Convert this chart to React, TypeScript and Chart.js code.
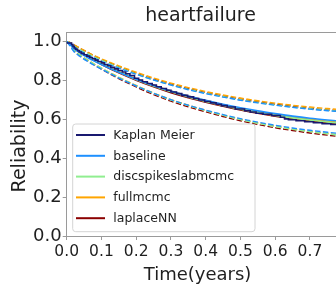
import React, { useEffect, useRef } from "react";
import { Chart, registerables } from "chart.js";

Chart.register(...registerables);

// ---------- data ----------
const TITLE = "heartfailure";
const X_LABEL = "Time(years)";
const Y_LABEL = "Reliability";

const TIMES = [0, 0.01, 0.02, 0.04, 0.06, 0.08, 0.1, 0.15, 0.2, 0.25, 0.3, 0.35, 0.4, 0.45, 0.5, 0.55, 0.6, 0.65, 0.7, 0.75, 0.8];

const KM_TIMES = [0, 0.014, 0.018, 0.022, 0.026, 0.031, 0.036, 0.042, 0.05, 0.058, 0.066, 0.074, 0.082, 0.09, 0.1, 0.108, 0.118, 0.127, 0.138, 0.148, 0.16, 0.17, 0.182, 0.195, 0.207, 0.218, 0.232, 0.246, 0.258, 0.272, 0.287, 0.3, 0.316, 0.331, 0.348, 0.365, 0.38, 0.397, 0.414, 0.43, 0.445, 0.462, 0.485, 0.512, 0.528, 0.545, 0.565, 0.59, 0.615, 0.627, 0.638, 0.66, 0.685, 0.71, 0.735, 0.76, 0.78];
const KM_SURV = [1.0, 0.993, 0.985, 0.976, 0.968, 0.961, 0.954, 0.947, 0.94, 0.933, 0.926, 0.919, 0.912, 0.905, 0.898, 0.891, 0.883, 0.876, 0.868, 0.86, 0.852, 0.844, 0.835, 0.826, 0.812, 0.803, 0.794, 0.785, 0.777, 0.768, 0.759, 0.75, 0.741, 0.733, 0.724, 0.716, 0.708, 0.7, 0.692, 0.685, 0.678, 0.671, 0.664, 0.654, 0.645, 0.638, 0.632, 0.627, 0.62, 0.611, 0.603, 0.598, 0.593, 0.588, 0.583, 0.578, 0.574];

const BASELINE_MEAN = [1.0, 0.985, 0.965, 0.94, 0.919, 0.9, 0.883, 0.843, 0.807, 0.775, 0.746, 0.72, 0.698, 0.678, 0.66, 0.644, 0.63, 0.617, 0.606, 0.597, 0.589];
const BASELINE_UPPER = [1.0, 0.99, 0.973, 0.951, 0.932, 0.915, 0.899, 0.864, 0.832, 0.803, 0.777, 0.753, 0.733, 0.715, 0.699, 0.685, 0.673, 0.662, 0.653, 0.645, 0.639];
const BASELINE_LOWER = [1.0, 0.977, 0.951, 0.922, 0.899, 0.878, 0.859, 0.813, 0.772, 0.735, 0.702, 0.673, 0.648, 0.625, 0.604, 0.586, 0.57, 0.556, 0.544, 0.534, 0.525];

const DISC_MEAN = [1.0, 0.99, 0.972, 0.946, 0.924, 0.904, 0.886, 0.844, 0.806, 0.772, 0.742, 0.716, 0.693, 0.672, 0.653, 0.636, 0.621, 0.608, 0.597, 0.587, 0.578];
const DISC_UPPER = [1.0, 0.993, 0.979, 0.958, 0.939, 0.921, 0.905, 0.868, 0.834, 0.804, 0.778, 0.755, 0.735, 0.717, 0.701, 0.687, 0.675, 0.664, 0.655, 0.647, 0.64];
const DISC_LOWER = [1.0, 0.984, 0.96, 0.93, 0.906, 0.884, 0.864, 0.816, 0.773, 0.734, 0.7, 0.671, 0.645, 0.621, 0.599, 0.58, 0.563, 0.549, 0.537, 0.526, 0.516];

const FULL_MEAN = [1.0, 0.99, 0.973, 0.948, 0.926, 0.906, 0.888, 0.847, 0.81, 0.776, 0.746, 0.72, 0.697, 0.676, 0.657, 0.64, 0.625, 0.612, 0.601, 0.591, 0.582];
const FULL_UPPER = [1.0, 0.995, 0.985, 0.965, 0.946, 0.928, 0.912, 0.876, 0.843, 0.813, 0.787, 0.764, 0.744, 0.726, 0.71, 0.696, 0.684, 0.673, 0.664, 0.656, 0.649];
const FULL_LOWER = [1.0, 0.982, 0.959, 0.93, 0.906, 0.884, 0.864, 0.817, 0.775, 0.736, 0.702, 0.673, 0.647, 0.623, 0.601, 0.582, 0.565, 0.551, 0.539, 0.528, 0.518];

const LAPLACE_MEAN = [1.0, 0.99, 0.97, 0.945, 0.923, 0.902, 0.883, 0.84, 0.802, 0.768, 0.738, 0.712, 0.689, 0.668, 0.649, 0.632, 0.617, 0.604, 0.592, 0.582, 0.573];
const LAPLACE_UPPER = [1.0, 0.995, 0.984, 0.964, 0.945, 0.926, 0.909, 0.871, 0.837, 0.807, 0.781, 0.758, 0.738, 0.72, 0.704, 0.69, 0.678, 0.667, 0.657, 0.649, 0.642];
const LAPLACE_LOWER = [1.0, 0.982, 0.956, 0.927, 0.903, 0.88, 0.859, 0.81, 0.767, 0.728, 0.694, 0.665, 0.639, 0.615, 0.593, 0.574, 0.557, 0.543, 0.53, 0.519, 0.509];

const SERIES_NAMES = ["Kaplan Meier", "baseline", "discspikeslabmcmc", "fullmcmc", "laplaceNN"];
const SERIES_COLORS = ["#191970", "#1e90ff", "#90ee90", "#ffa500", "#8b0000"];

const X_MIN = 0;
const X_MAX = 0.775;
const X_STEP = 0.1;
const Y_MIN = 0;
const Y_MAX = 1.05;
const Y_STEP = 0.2;

// ---------- helpers ----------
const FONT = "'DejaVu Sans', 'Liberation Sans', sans-serif";
const TEXT = "#1f1f1f";
const SPINE = "#9a9a9a";

const pts = (xs: number[], ys: number[]) => xs.map((x, i) => ({ x, y: ys[i] }));

const meanDs = (label: string, color: string, ys: number[]) => ({
  label,
  data: pts(TIMES, ys),
  borderColor: color,
  backgroundColor: color,
  borderWidth: 1.6,
  pointRadius: 0,
  cubicInterpolationMode: "monotone" as const,
  fill: false,
});
const bandDs = (label: string, color: string, ys: number[]) => ({
  label,
  data: pts(TIMES, ys),
  borderColor: color,
  backgroundColor: color,
  borderWidth: 1.4,
  borderDash: [5.5, 2.4],
  pointRadius: 0,
  cubicInterpolationMode: "monotone" as const,
  fill: false,
});

const decorPlugin = {
  id: "decor",
  afterDatasetsDraw(chart: any) {
    const { ctx, chartArea } = chart;
    const { left, bottom } = chartArea;
    ctx.save();
    // legend
    const lx = left + 6;
    const lw = 182.3;
    const lh = 107.7;
    const ly = bottom - 4.3 - lh;
    const r = 3;
    ctx.beginPath();
    ctx.moveTo(lx + r, ly);
    ctx.lineTo(lx + lw - r, ly);
    ctx.quadraticCurveTo(lx + lw, ly, lx + lw, ly + r);
    ctx.lineTo(lx + lw, ly + lh - r);
    ctx.quadraticCurveTo(lx + lw, ly + lh, lx + lw - r, ly + lh);
    ctx.lineTo(lx + r, ly + lh);
    ctx.quadraticCurveTo(lx, ly + lh, lx, ly + lh - r);
    ctx.lineTo(lx, ly + r);
    ctx.quadraticCurveTo(lx, ly, lx + r, ly);
    ctx.closePath();
    ctx.fillStyle = "rgba(255,255,255,0.85)";
    ctx.fill();
    ctx.strokeStyle = "#d4d4d4";
    ctx.lineWidth = 1;
    ctx.stroke();
    ctx.font = `12.5px ${FONT}`;
    ctx.textAlign = "left";
    ctx.textBaseline = "middle";
    SERIES_NAMES.forEach((name, i) => {
      const y = ly + 11 + i * 20.8;
      ctx.strokeStyle = SERIES_COLORS[i];
      ctx.lineWidth = 2;
      ctx.beginPath();
      ctx.moveTo(lx + 3.3, y);
      ctx.lineTo(lx + 32.3, y);
      ctx.stroke();
      ctx.fillStyle = TEXT;
      ctx.fillText(name, lx + 40.6, y + 0.5);
    });
    ctx.restore();
  },
  afterDraw(chart: any) {
    const { ctx, chartArea } = chart;
    const { left, top, right } = chartArea;
    ctx.save();
    ctx.strokeStyle = SPINE;
    ctx.lineWidth = 1;
    ctx.beginPath();
    ctx.moveTo(left, top + 0.5);
    ctx.lineTo(right, top + 0.5);
    ctx.stroke();
    ctx.fillStyle = TEXT;
    ctx.textAlign = "center";
    ctx.textBaseline = "middle";
    ctx.font = `19px ${FONT}`;
    ctx.fillText(TITLE, 200.5, 16);
    ctx.font = `18px ${FONT}`;
    ctx.fillText(X_LABEL, 197.5, 275.4);
    ctx.translate(20, 146);
    ctx.rotate(-Math.PI / 2);
    ctx.font = `19px ${FONT}`;
    ctx.fillText(Y_LABEL, 0, 0);
    ctx.restore();
  },
};

export default function App() {
  const ref = useRef<HTMLCanvasElement | null>(null);
  useEffect(() => {
    if (!ref.current) return;
    const datasets: any[] = [
      {
        label: SERIES_NAMES[0],
        data: pts(KM_TIMES, KM_SURV),
        borderColor: SERIES_COLORS[0],
        backgroundColor: SERIES_COLORS[0],
        borderWidth: 1.6,
        pointRadius: 0,
        stepped: "after",
        fill: false,
      },
      meanDs(SERIES_NAMES[1], SERIES_COLORS[1], BASELINE_MEAN),
      bandDs(SERIES_NAMES[1] + " upper", SERIES_COLORS[1], BASELINE_UPPER),
      bandDs(SERIES_NAMES[1] + " lower", SERIES_COLORS[1], BASELINE_LOWER),
      meanDs(SERIES_NAMES[2], SERIES_COLORS[2], DISC_MEAN),
      bandDs(SERIES_NAMES[2] + " upper", SERIES_COLORS[2], DISC_UPPER),
      bandDs(SERIES_NAMES[2] + " lower", SERIES_COLORS[2], DISC_LOWER),
      meanDs(SERIES_NAMES[3], SERIES_COLORS[3], FULL_MEAN),
      bandDs(SERIES_NAMES[3] + " upper", SERIES_COLORS[3], FULL_UPPER),
      bandDs(SERIES_NAMES[3] + " lower", SERIES_COLORS[3], FULL_LOWER),
      meanDs(SERIES_NAMES[4], SERIES_COLORS[4], LAPLACE_MEAN),
      bandDs(SERIES_NAMES[4] + " upper", SERIES_COLORS[4], LAPLACE_UPPER),
      bandDs(SERIES_NAMES[4] + " lower", SERIES_COLORS[4], LAPLACE_LOWER),
    ];
    const chart = new Chart(ref.current, {
      type: "line",
      data: { datasets },
      plugins: [decorPlugin],
      options: {
        responsive: false,
        animation: false,
        devicePixelRatio: 1,
        layout: { padding: { top: 32, left: 0, right: 0, bottom: 0 } },
        plugins: { legend: { display: false }, title: { display: false }, tooltip: { enabled: false } },
        scales: {
          x: {
            type: "linear",
            min: X_MIN,
            max: X_MAX,
            ticks: {
              stepSize: X_STEP,
              includeBounds: false,
              autoSkip: false,
              maxRotation: 0,
              padding: 3,
              color: TEXT,
              font: { family: FONT, size: 15.5 },
              callback: (v: any) => Number(v).toFixed(1),
            },
            grid: { drawOnChartArea: false, drawTicks: true, tickLength: 4, tickColor: SPINE },
            border: { display: true, color: SPINE, width: 1 },
            afterFit: (s: any) => {
              s.height = 55;
            },
          },
          y: {
            type: "linear",
            min: Y_MIN,
            max: Y_MAX,
            ticks: {
              stepSize: Y_STEP,
              includeBounds: false,
              padding: 1,
              color: TEXT,
              font: { family: FONT, size: 18 },
              callback: (v: any) => Number(v).toFixed(1),
            },
            grid: { drawOnChartArea: false, drawTicks: true, tickLength: 4, tickColor: SPINE },
            border: { display: true, color: SPINE, width: 1 },
            afterFit: (s: any) => {
              s.width = 66.7;
            },
          },
        },
      } as any,
    });
    return () => chart.destroy();
  }, []);
  return (
    <div style={{ position: "absolute", left: 0, top: 0, width: 336, height: 291, overflow: "hidden", background: "#fff" }}>
      <canvas ref={ref} width={336} height={291} style={{ display: "block", width: 336, height: 291 }} />
    </div>
  );
}
